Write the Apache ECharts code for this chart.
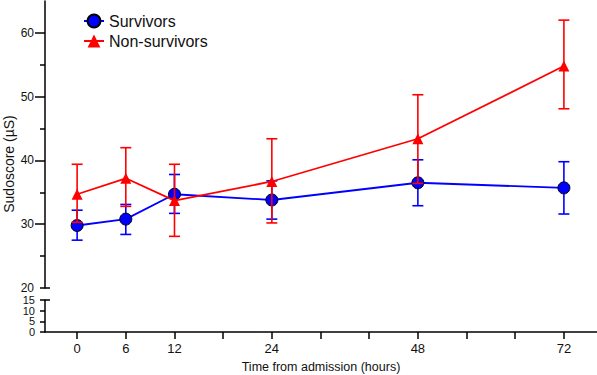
<!DOCTYPE html>
<html>
<head>
<meta charset="utf-8">
<script src="https://cdn.jsdelivr.net/npm/echarts@6/dist/echarts.min.js"></script>
<style>
  html, body { margin: 0; padding: 0; background: #fff; }
  #chart { width: 597px; height: 375px; }
</style>
</head>
<body>
<div id="chart"></div>
<script>
// x axis slots (Prism-style spacing), label shown only where there is one
const xTickLabels = ['0', '6', '12', '', '24', '', '', '48', '', '', '72']
const hours = [0, 6, 12, 24, 48, 72]

const survMean = [29.8, 30.8, 34.7, 33.8, 36.5, 35.7]
const survLow = [27.5, 28.4, 31.7, 30.8, 32.9, 31.6]
const survHigh = [32.2, 33.1, 37.8, 36.8, 40.1, 39.8]

const nonMean = [34.7, 37.2, 33.7, 36.7, 43.4, 54.8]
const nonLow = [30.3, 32.8, 28.1, 30.2, 36.4, 48.1]
const nonHigh = [39.4, 42.0, 39.4, 43.4, 50.3, 62.0]

const upperTicks = [30, 40, 50, 60]
const upperMinor = [20, 25, 35, 45, 55]
const upperLabels = [20, 30, 40, 50, 60]
const lowerTicks = [0, 5, 10]
const lowerLabelsA = [0, 10]
const lowerLabelsB = [5, 15]

const BLUE = '#0000ff'
const RED = '#ff0000'
const FONT = 'Liberation Sans, Arial, Helvetica, sans-serif'

const xPos = hours.map(h => xTickLabels.indexOf(String(h)))

function pairs(vals) {
  return vals.map((v, i) => [xPos[i], v])
}
function bars(low, high) {
  return low.map((l, i) => [xPos[i], l, high[i]])
}

function errorBar(color) {
  return function (params, api) {
    const x = api.value(0)
    const lo = api.coord([x, api.value(1)])
    const hi = api.coord([x, api.value(2)])
    const half = 5.5
    const style = { stroke: color, lineWidth: 1.6, fill: null }
    return {
      type: 'group',
      children: [
        { type: 'line', shape: { x1: lo[0], y1: lo[1], x2: hi[0], y2: hi[1] }, style: style },
        { type: 'line', shape: { x1: hi[0] - half, y1: hi[1], x2: hi[0] + half, y2: hi[1] }, style: style },
        { type: 'line', shape: { x1: lo[0] - half, y1: lo[1], x2: lo[0] + half, y2: lo[1] }, style: style }
      ]
    }
  }
}

const axisLine = { show: true, onZero: false, lineStyle: { color: '#000', width: 1.5 } }
const noLine = { show: false, onZero: false }
const tickStyle = { color: '#000', width: 1.5 }
const labelBase = {
  interval: 0, showMinLabel: true, showMaxLabel: true, hideOverlap: false,
  color: '#111', fontFamily: FONT
}
const xMin = -0.66
const xMax = 10.68

const chart = echarts.init(document.getElementById('chart'), null, { renderer: 'svg' })

chart.setOption({
  animation: false,
  backgroundColor: '#fff',
  textStyle: { fontFamily: FONT },
  grid: [
    { left: 45, right: 0, top: 1, height: 287, outerBoundsMode: 'none' },
    { left: 45, right: 0, top: 300, height: 32, outerBoundsMode: 'none' }
  ],
  legend: {
    left: 83,
    top: 13,
    padding: 0,
    orient: 'vertical',
    itemWidth: 20,
    itemHeight: 16,
    itemGap: 4,
    data: ['Survivors', 'Non-survivors'],
    textStyle: { fontSize: 16, color: '#111', fontFamily: FONT }
  },
  graphic: [{
    type: 'text',
    x: 9,
    y: 164,
    rotation: Math.PI / 2,
    style: {
      text: 'Sudoscore (µS)',
      fontSize: 14,
      fontFamily: FONT,
      fill: '#111',
      align: 'center',
      verticalAlign: 'middle'
    }
  }],
  xAxis: [
    {
      type: 'value', gridIndex: 0, min: xMin, max: xMax, show: false
    },
    {
      type: 'value', gridIndex: 1, min: xMin, max: xMax,
      axisLine: axisLine,
      splitLine: { show: false },
      axisTick: {
        show: true, length: 7, lineStyle: tickStyle,
        customValues: xTickLabels.map((t, i) => i)
      },
      axisLabel: {
        customValues: xPos,
        formatter: v => xTickLabels[Math.round(v)],
        color: '#111', fontSize: 13, margin: 10, fontFamily: FONT
      },
      name: 'Time from admission (hours)',
      nameLocation: 'middle',
      nameGap: 28,
      nameTextStyle: { fontSize: 12.5, color: '#111', fontFamily: FONT }
    }
  ],
  yAxis: [
    {
      type: 'value', gridIndex: 0, position: 'left', min: 20, max: 65,
      axisLine: axisLine,
      splitLine: { show: false },
      axisTick: { show: true, length: 10, lineStyle: tickStyle, customValues: upperTicks },
      axisLabel: Object.assign({ customValues: upperLabels, fontSize: 12, margin: 11 }, labelBase)
    },
    {
      type: 'value', gridIndex: 0, position: 'left', min: 20, max: 65,
      axisLine: noLine,
      splitLine: { show: false },
      axisLabel: { show: false },
      axisTick: { show: true, length: 5, lineStyle: tickStyle, customValues: upperMinor }
    },
    {
      type: 'value', gridIndex: 0, position: 'left', min: 20, max: 65,
      axisLine: noLine,
      splitLine: { show: false },
      axisLabel: { show: false },
      axisTick: { show: true, inside: true, length: 5, lineStyle: tickStyle, customValues: [20] }
    },
    {
      type: 'value', gridIndex: 1, position: 'left', min: 0, max: 15,
      axisLine: axisLine,
      splitLine: { show: false },
      axisTick: { show: true, length: 5, lineStyle: tickStyle, customValues: lowerTicks },
      axisLabel: Object.assign({ customValues: lowerLabelsA, fontSize: 11, lineHeight: 9, margin: 10 }, labelBase)
    },
    {
      type: 'value', gridIndex: 1, position: 'left', min: 0, max: 15,
      axisLine: noLine,
      splitLine: { show: false },
      axisLabel: Object.assign({ customValues: lowerLabelsB, fontSize: 11, lineHeight: 9, margin: 10 }, labelBase),
      axisTick: { show: true, length: 5, lineStyle: tickStyle, customValues: [15] }
    },
    {
      type: 'value', gridIndex: 1, position: 'left', min: 0, max: 15,
      axisLine: noLine,
      splitLine: { show: false },
      axisLabel: { show: false },
      axisTick: { show: true, inside: true, length: 5, lineStyle: tickStyle, customValues: [15] }
    }
  ],
  series: [
    {
      type: 'custom',
      xAxisIndex: 0,
      yAxisIndex: 0,
      z: 1,
      renderItem: errorBar(BLUE),
      data: bars(survLow, survHigh)
    },
    {
      name: 'Survivors',
      type: 'line',
      xAxisIndex: 0,
      yAxisIndex: 0,
      z: 2,
      symbol: 'circle',
      symbolSize: 12,
      itemStyle: { color: BLUE, borderColor: '#000', borderWidth: 1 },
      lineStyle: { color: BLUE, width: 1.8 },
      data: pairs(survMean)
    },
    {
      type: 'custom',
      xAxisIndex: 0,
      yAxisIndex: 0,
      z: 3,
      renderItem: errorBar(RED),
      data: bars(nonLow, nonHigh)
    },
    {
      name: 'Non-survivors',
      type: 'line',
      xAxisIndex: 0,
      yAxisIndex: 0,
      z: 4,
      symbol: 'triangle',
      symbolSize: 11,
      itemStyle: { color: RED },
      lineStyle: { color: RED, width: 1.8 },
      data: pairs(nonMean)
    }
  ]
})
</script>
</body>
</html>
